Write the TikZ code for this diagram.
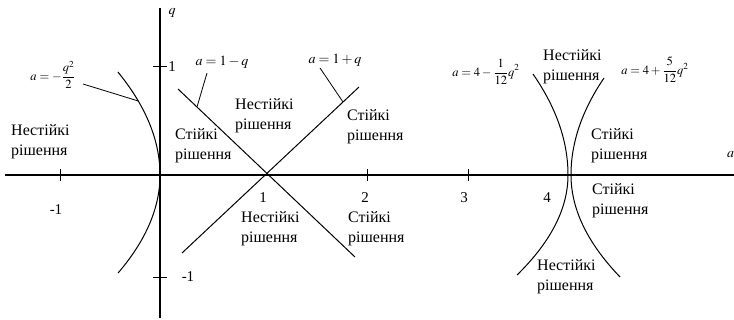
\documentclass[tikz,border=0pt]{standalone}
\usepackage{mathptmx}
\usepackage{fontspec}
\setmainfont{Liberation Serif}
\usetikzlibrary{positioning, calc}

\begin{document}
\begin{tikzpicture}[
		x=1pt, y=-1pt,
		% Styles
		axisLine/.style={line width=1.1pt},
		curveLine/.style={line width=1pt},
		leaderLine/.style={line width=0.8pt},
		tickMark/.style={line width=1pt},
		regionText/.style={anchor=north west, inner sep=0pt, align=left, font=\fontsize{16}{20.5}\selectfont},
		tickLabel/.style={inner sep=0pt, font=\fontsize{15}{18}\selectfont},
		eqLabel/.style={inner sep=0pt, font=\fontsize{14}{16}\selectfont},
		smallEq/.style={inner sep=0pt, font=\fontsize{12.5}{14}\selectfont}
		]
		\useasboundingbox (0,0) rectangle (734,320);
		
		% =========================================================
		% 1. AXES
		% =========================================================
		\coordinate (O) at (160,175);
		\draw[axisLine] (5,175) -- (734,175);
		\draw[axisLine] (160,8) -- (160,318);
		\node[eqLabel] (qLab) at (172,13) {$q$};
		\node[eqLabel, anchor=west] (aLab) at (727,155) {$a$};
		
		% ticks on a
		\foreach \tx in {60,367,468}
			\draw[tickMark] (\tx,169) -- (\tx,181);
		\node[tickLabel] (tm1) at (56,210) {-1};
		\node[tickLabel] (t1) at (263,198) {1};
		\node[tickLabel] (t2) at (365,198) {2};
		\node[tickLabel] (t3) at (464,198) {3};
		\node[tickLabel] (t4) at (547,198) {4};
		
		% ticks on q
		\foreach \ty in {67,278}
			\draw[tickMark] (153,\ty) -- (167,\ty);
		\node[tickLabel] (q1) at (172,67) {1};
		\node[tickLabel] (qm1) at (188,277) {-1};
		
		% =========================================================
		% 2. BOUNDARY CURVES
		% =========================================================
		% a = -q^2/2
		\draw[curveLine] plot[domain=-103:0, samples=40] ({160-0.00396*\x*\x},{175+\x});
		\draw[curveLine] plot[domain=0:98, samples=40] ({160-0.00437*\x*\x},{175+\x});
		\coordinate (parL) at ({160-0.00396*74*74},101);
		
		% a = 1-q and a = 1+q
		\coordinate (C1) at (266,175);
		\draw[curveLine] (178,89) -- (355,257);
		\draw[curveLine] (182,253) -- (359,87);
		\coordinate (lineM) at (197,107);
		\coordinate (lineP) at (343,102);
		
		% a = 4 - q^2/12 and a = 4 + 5q^2/12
		\draw[curveLine] plot[domain=-101:0, samples=40] ({568-0.00343*\x*\x},{175+\x});
		\draw[curveLine] plot[domain=0:100, samples=40] ({568-0.0051*\x*\x},{175+\x});
		\draw[curveLine] plot[domain=-97:0, samples=40] ({571+0.00351*\x*\x},{175+\x});
		\draw[curveLine] plot[domain=0:102, samples=40] ({571+0.00471*\x*\x},{175+\x});
		
		% =========================================================
		% 3. CURVE LABELS
		% =========================================================
		\node[smallEq] (eqPar) at (53,75) {$a=-\displaystyle\frac{q^{2}}{2}$};
		\coordinate (eqParEnd) at (83,84);
		\draw[leaderLine] (eqParEnd) -- (parL);
		
		\node[eqLabel] (eqM) at (222,62) {$a=1-q$};
		\coordinate (eqMEnd) at (207,73);
		\draw[leaderLine] (eqMEnd) -- (lineM);
		
		\node[eqLabel] (eqP) at (335,60) {$a=1+q$};
		\coordinate (eqPEnd) at (320,68);
		\draw[leaderLine] (eqPEnd) -- (lineP);
		
		\node[smallEq] (eqFourM) at (486,72) {$a=4-\displaystyle\frac{1}{12}q^{2}$};
		\node[smallEq] (eqFourP) at (655,70) {$a=4+\displaystyle\frac{5}{12}q^{2}$};
		
		% =========================================================
		% 4. STABILITY REGIONS
		% =========================================================
		\node[regionText] (unstL) at (11,124) {Нестійкі\\рішення};
		\node[regionText] (stabL) at (175,128) {Стійкі\\рішення};
		\node[regionText] (unstT) at (235,98) {Нестійкі\\рішення};
		\node[regionText] (stabT) at (347,109) {Стійкі\\рішення};
		\node[regionText] (unstB) at (241,211) {Нестійкі\\рішення};
		\node[regionText] (stabB) at (348,211) {Стійкі\\рішення};
		\node[regionText] (unstTR) at (543,49) {Нестійкі\\рішення};
		\node[regionText] (stabRA) at (591,128) {Стійкі\\рішення};
		\node[regionText] (stabRB) at (592,183) {Стійкі\\рішення};
		\node[regionText] (unstBR) at (537,259) {Нестійкі\\рішення};
		
	\end{tikzpicture}
\end{document}
